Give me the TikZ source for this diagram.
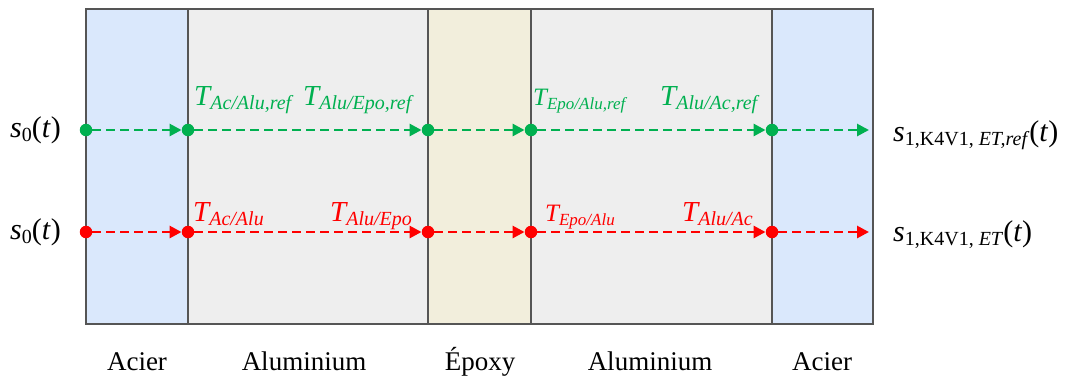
\documentclass[tikz,border=0pt]{standalone}
\usepackage{fontspec}
\setmainfont{Liberation Serif}
\usetikzlibrary{arrows.meta}
\definecolor{gr}{HTML}{00B050}
\definecolor{rd}{HTML}{FF0000}
\definecolor{acier}{HTML}{DAE8FC}
\definecolor{alu}{HTML}{EEEEEE}
\definecolor{epo}{HTML}{F2EEDC}
\definecolor{edge}{HTML}{555555}
\newcommand{\Tlab}[3]{{\fontsize{#2}{#2}\selectfont\itshape T}\raisebox{-4pt}{\fontsize{#3}{#3}\selectfont\itshape #1}}
\newcommand{\sig}[1]{{\fontsize{30}{30}\selectfont\itshape s}\raisebox{-4pt}{\fontsize{20}{20}\selectfont #1}{\fontsize{30}{30}\selectfont(\textit{t})}}
\begin{document}
\begin{tikzpicture}[x=1pt,y=-1pt,
  border/.style={draw=edge, line width=1.8pt},
  dotg/.style={circle, fill=gr, inner sep=0pt, minimum size=12.5pt},
  dotr/.style={circle, fill=rd, inner sep=0pt, minimum size=12.5pt},
  arrg/.style={gr, line width=2.8pt, dash pattern=on 9pt off 5pt, -{Triangle[length=12pt,width=12pt]}},
  arrr/.style={rd, line width=2.8pt, dash pattern=on 9pt off 5pt, -{Triangle[length=12pt,width=12pt]}},
  lab/.style={anchor=base west, inner sep=0pt},
  mat/.style={anchor=base, inner sep=0pt, font=\fontsize{27}{27}\selectfont}]
\useasboundingbox (0,0) rectangle (1076,376);
% layers
\fill[acier] (86,9) rectangle (188,324);
\fill[alu] (188,9) rectangle (428,324);
\fill[epo] (428,9) rectangle (531,324);
\fill[alu] (531,9) rectangle (772,324);
\fill[acier] (772,9) rectangle (873,324);
\draw[border] (86,9) rectangle (873,324);
\draw[border] (188,9) -- (188,324);
\draw[border] (428,9) -- (428,324);
\draw[border] (531,9) -- (531,324);
\draw[border] (772,9) -- (772,324);
% green row
\node[dotg] (g0) at (86,130) {};
\node[dotg] (g1) at (188,130) {};
\node[dotg] (g2) at (428,130) {};
\node[dotg] (g3) at (531,130) {};
\node[dotg] (g4) at (772,130) {};
\coordinate (gE) at (869,130);
\draw[arrg] (g0) -- (g1);
\draw[arrg] (g1) -- (g2);
\draw[arrg] (g2) -- (g3);
\draw[arrg] (g3) -- (g4);
\draw[arrg] (g4) -- (gE);
% red row
\node[dotr] (r0) at (86,232) {};
\node[dotr] (r1) at (188,232) {};
\node[dotr] (r2) at (428,232) {};
\node[dotr] (r3) at (531,232) {};
\node[dotr] (r4) at (772,232) {};
\coordinate (rE) at (869,232);
\draw[arrr] (r0) -- (r1);
\draw[arrr] (r1) -- (r2);
\draw[arrr] (r2) -- (r3);
\draw[arrr] (r3) -- (r4);
\draw[arrr] (r4) -- (rE);
% green labels
\node[lab, text=gr] (tg1) at (194,105) {\Tlab{Ac/Alu,ref}{29}{20}};
\node[lab, text=gr] (tg2) at (303,105) {\Tlab{Alu/Epo,ref}{29}{20}};
\node[lab, text=gr] (tg3) at (533,105) {\Tlab{Epo/Alu,ref}{25}{17}};
\node[lab, text=gr] (tg4) at (660,105) {\Tlab{Alu/Ac,ref}{29}{20}};
% red labels
\node[lab, text=rd] (tr1) at (193,221) {\Tlab{Ac/Alu}{29}{20}};
\node[lab, text=rd] (tr2) at (330,221) {\Tlab{Alu/Epo}{29}{20}};
\node[lab, text=rd] (tr3) at (545,221) {\Tlab{Epo/Alu}{25}{17}};
\node[lab, text=rd] (tr4) at (682,221) {\Tlab{Alu/Ac}{29}{20}};
% signals
\node[lab] (s0g) at (10,137) {\sig{0}};
\node[lab] (s0r) at (10,239) {\sig{0}};
\node[lab] (s1g) at (893,141) {\sig{1,K4V1, \textit{ET,ref}}};
\node[lab] (s1r) at (893,241) {\sig{1,K4V1, \textit{ET}}};
% materials
\node[mat] (m1) at (137,370) {Acier};
\node[mat] (m2) at (304,370) {Aluminium};
\node[mat] (m3) at (480,370) {Époxy};
\node[mat] (m4) at (650,370) {Aluminium};
\node[mat] (m5) at (822,370) {Acier};
\end{tikzpicture}
\end{document}
